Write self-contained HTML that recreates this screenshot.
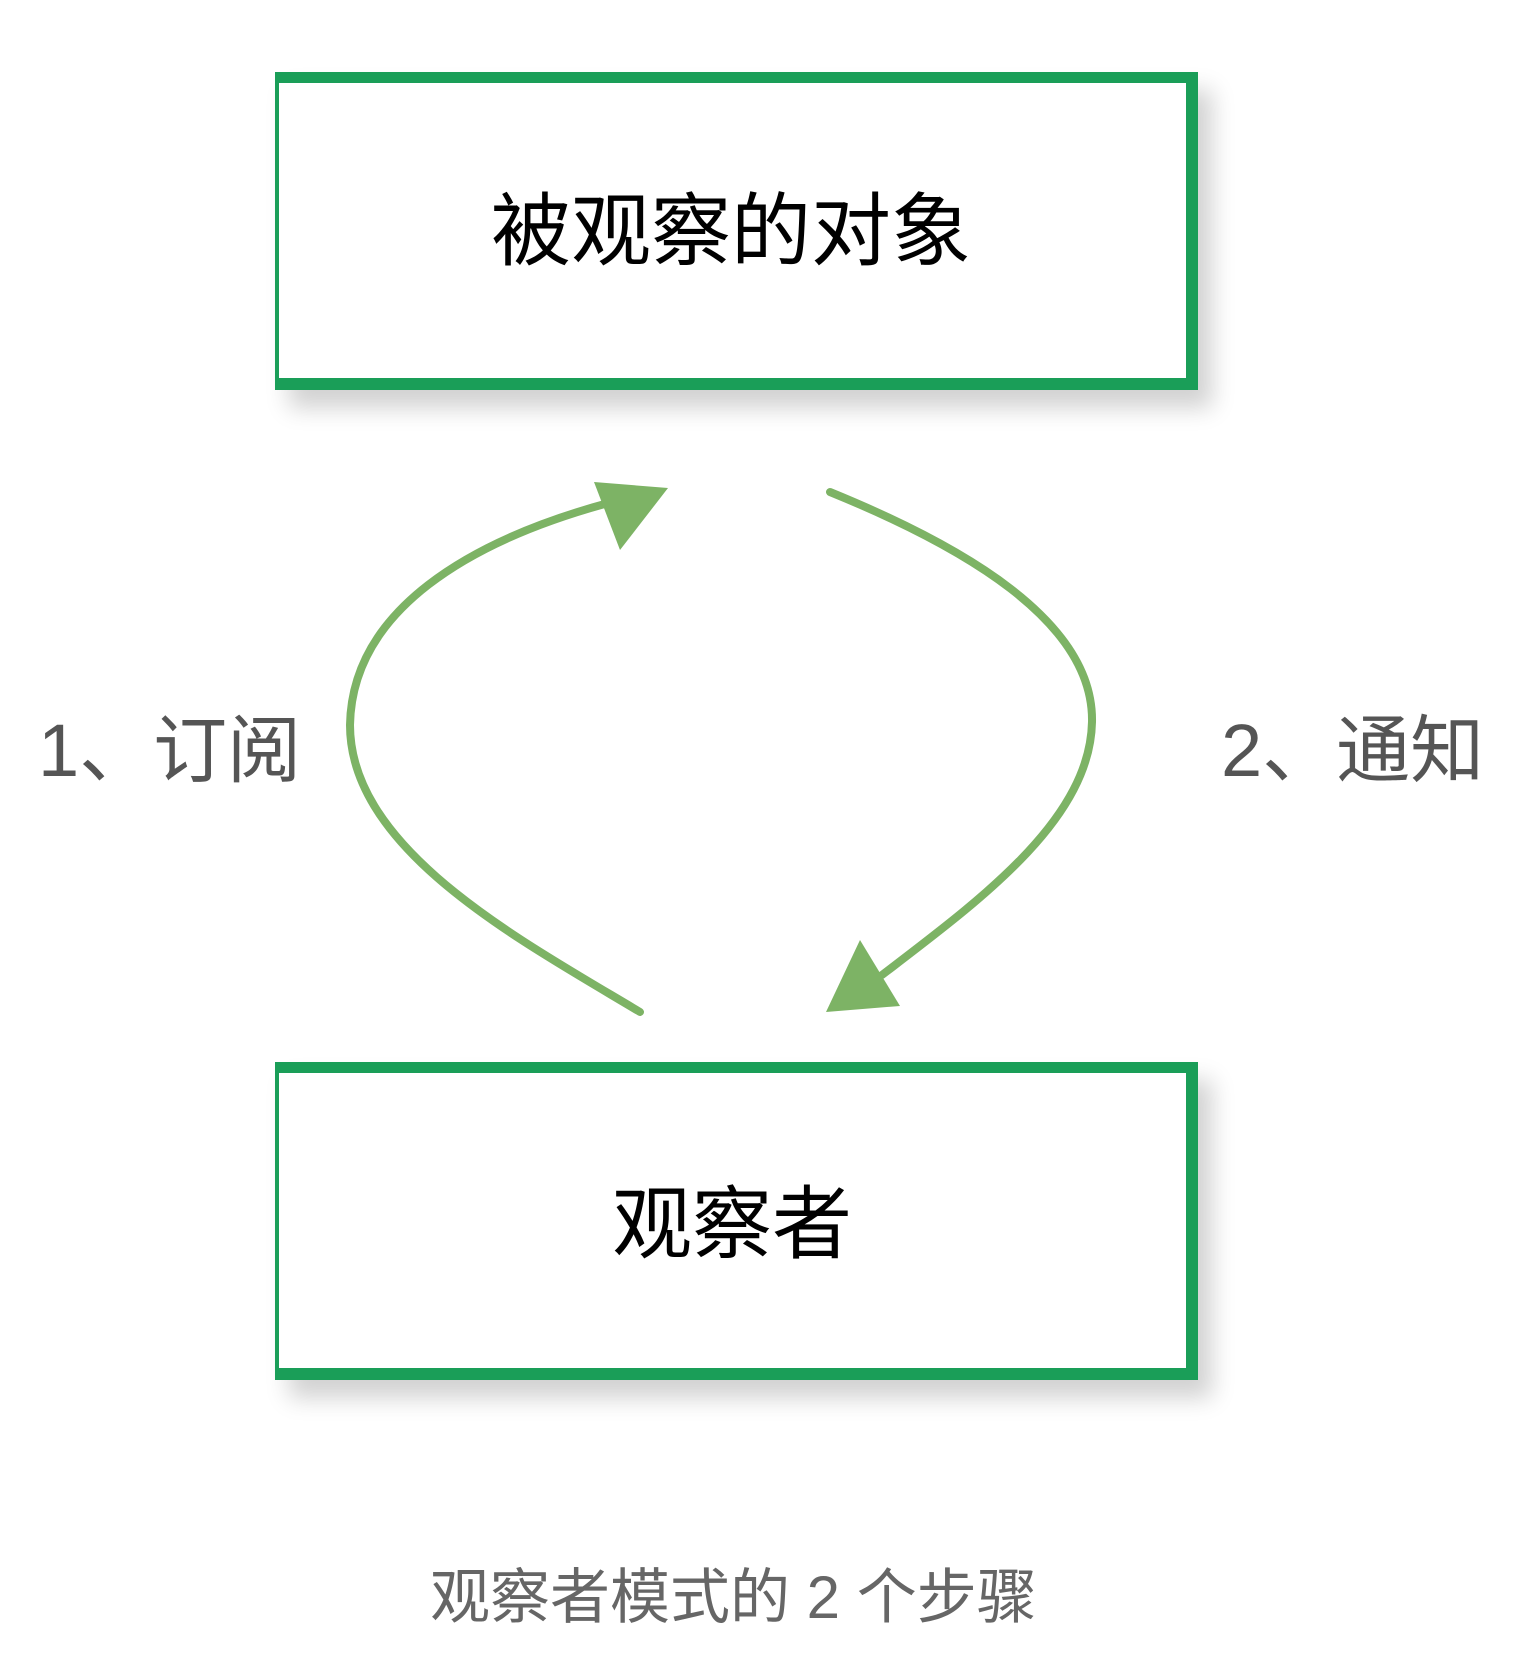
<!DOCTYPE html>
<html><head><meta charset="utf-8"><style>
html,body{margin:0;padding:0;background:#fff;}
body{width:1528px;height:1677px;position:relative;overflow:hidden;font-family:"Liberation Sans","Noto Sans CJK SC",sans-serif;}
.box{position:absolute;left:275px;width:923px;box-sizing:border-box;border:12px solid #1a9e58;border-left-width:4px;border-top-width:11px;background:#fff;box-shadow:14px 18px 22px rgba(0,0,0,0.18);}
.t{position:absolute;white-space:nowrap;line-height:1;}
</style></head><body>
<div class="box" style="top:72px;height:318px;"></div>
<div class="box" style="top:1062px;height:318px;"></div>
<div class="t" style="left:491px;top:192px;font-size:80px;color:#000;">被观察的对象</div>
<div class="t" style="left:612px;top:1185px;font-size:80px;color:#000;">观察者</div>
<div class="t" style="left:38px;top:714px;font-size:74px;color:#555;">1、订阅</div>
<div class="t" style="left:1221px;top:714px;font-size:74px;color:#555;">2、通知</div>
<div class="t" style="left:430px;top:1568px;font-size:60px;color:#666;">观察者模式的 2 个步骤</div>
<svg width="1528" height="1677" style="position:absolute;left:0;top:0">
<g fill="none" stroke="#7db365" stroke-linecap="round">
<path d="M640 1012 C 520 940, 350 850, 350 725 C 352 610, 470 540, 612 502" stroke-width="8"/>
<path d="M830 492 C 960 545, 1094 620, 1092 722 C 1090 820, 980 900, 882 975" stroke-width="8"/>
</g>
<g fill="#7db365">
<polygon points="594,482 668,488 620,550"/>
<polygon points="860,940 826,1012 900,1006"/>
</g>
</svg>
</body></html>
